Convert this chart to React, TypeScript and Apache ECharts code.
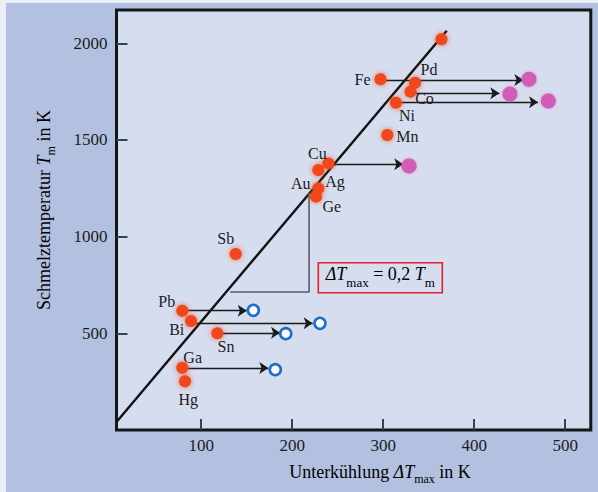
import React, { useEffect, useRef } from 'react';
import * as echarts from 'echarts';

// Red dots: element, undercooling ΔTmax (K), melting temperature Tm (K)
const elements = ['', 'Fe', 'Pd', 'Co', 'Ni', 'Mn', 'Cu', 'Au', 'Ag', 'Ge', 'Sb', 'Pb', 'Bi', 'Sn', 'Ga', 'Hg'];
const undercooling = [364, 297, 335, 330, 314, 304.5, 239.7, 228.7, 228.7, 226.2, 137.9, 79.2, 88.8, 117.7, 79.2, 82.2];
const meltingT = [2021, 1814, 1796, 1750, 1693, 1526, 1379, 1345, 1250, 1207, 910, 617, 564, 500, 322, 252];

// Arrows (horizontal) towards larger undercooling
const arrowFromX = [297, 331, 314, 239.7, 79.2, 88.8, 117.7, 79.2];
const arrowToX = [454, 427.6, 470.1, 322, 150, 222.5, 186.6, 173.7];
const arrowY = [1810, 1742, 1695, 1374, 617, 552, 503, 321];

// Purple filled targets
const purpleX = [460.2, 439.3, 481.4, 328.4];
const purpleY = [1814, 1738, 1702, 1366];

// Blue open targets
const blueX = [157.3, 230.5, 192.9, 181.4];
const blueY = [619, 552, 498, 312];

// Trend line ΔTmax = 0,2 Tm and slope triangle
const trendX = [7.1, 369.8];
const trendY = [43, 2065];
const triX = [131.8, 218.5, 218.5];
const triY = [714, 714, 1226];

const xTicks = [100, 200, 300, 400, 500];
const yTicks = [500, 1000, 1500, 2000];

// label placement (pixel offsets from dot centre)
const labelOffsets: Record<string, number[]> = {
  Fe: [-18, 0], Pd: [14, -13], Co: [14, 7], Ni: [11, 13], Mn: [20, 1.5],
  Cu: [-11, -10], Au: [-17.6, 13.3], Ag: [16.7, -6.6], Ge: [15.7, 10],
  Sb: [-10, -15.7], Pb: [-15.6, -9.7], Bi: [-14.3, 8.3], Sn: [8.7, 13.4],
  Ga: [10.4, -10.4], Hg: [3.3, 18],
};

export default function App() {
  const ref = useRef<HTMLDivElement>(null);
  useEffect(() => {
    const chart = echarts.init(ref.current!, null, { renderer: 'svg' });
    const serif = "'Liberation Serif', 'DejaVu Serif', serif";
    const ink = '#1c1c1c';
    const plotBg = '#d6ddee';

    const richTitle = (lh: number, fs: number, sfs: number) => ({
      r: { fontFamily: serif, fontSize: fs, color: ink, lineHeight: lh },
      i: { fontFamily: serif, fontSize: fs, color: ink, lineHeight: lh, fontStyle: 'italic' },
      s: { fontFamily: serif, fontSize: sfs, color: ink, verticalAlign: 'bottom' },
    });

    const dotData = elements.map((n, k) => ({
      name: n,
      value: [undercooling[k], meltingT[k]],
      label: { offset: labelOffsets[n] || [0, 0] },
    }));

    const plain = (v: number) => String(v);

    const option: any = {
      animation: false,
      grid: {
        left: 116.5, top: 10, right: 7.2, bottom: 62,
        show: true, backgroundColor: plotBg, borderColor: '#101818', borderWidth: 3,
      },
      xAxis: {
        type: 'value', min: 6.9, max: 528.1,
        axisLine: { show: false },
        splitLine: { show: false },
        axisTick: { show: true, inside: true, length: 11, customValues: xTicks, lineStyle: { color: '#2a4854', width: 2 } },
        axisLabel: { customValues: xTicks, formatter: plain, margin: 7, fontFamily: serif, fontSize: 17, color: ink },
      },
      yAxis: {
        type: 'value', min: 0, max: 2172.4,
        axisLine: { show: false },
        splitLine: { show: false },
        axisTick: { show: true, inside: true, length: 11, customValues: yTicks, lineStyle: { color: '#2a4854', width: 2 } },
        axisLabel: { customValues: yTicks, formatter: plain, margin: 9, fontFamily: serif, fontSize: 17, color: ink },
      },
      graphic: [
        {
          type: 'text', x: 380, y: 472, z: 50,
          style: {
            text: '{r|Unterkühlung }{i|ΔT}{s|max}{r| in K}',
            rich: richTitle(26, 18, 12), align: 'center', verticalAlign: 'middle',
          },
        },
        {
          type: 'text', x: 44, y: 210, rotation: Math.PI / 2, z: 50,
          style: {
            text: '{r|Schmelztemperatur }{i|T}{s|m}{r| in K}',
            rich: richTitle(26, 18, 12), align: 'center', verticalAlign: 'middle',
          },
        },
        {
          type: 'rect', z: 50,
          shape: { x: 318.3, y: 262.7, width: 124, height: 30 },
          style: { fill: plotBg, stroke: '#e0222a', lineWidth: 1.6 },
        },
        {
          type: 'text', x: 380.3, y: 274, z: 51,
          style: {
            text: '{i|ΔT}{s|max}{r| = 0,2 }{i|T}{s|m}',
            rich: richTitle(30, 18, 13), align: 'center', verticalAlign: 'middle',
          },
        },
      ],
      series: [
        {
          type: 'line', data: trendX.map((x, k) => [x, trendY[k]]),
          symbol: 'none', lineStyle: { color: '#111', width: 2.4 }, z: 2,
        },
        {
          type: 'line', data: triX.map((x, k) => [x, triY[k]]),
          symbol: 'none', lineStyle: { color: '#56606a', width: 1.6 }, z: 2,
        },
        {
          type: 'lines', coordinateSystem: 'cartesian2d', z: 3,
          symbol: ['none', 'arrow'], symbolSize: 9,
          lineStyle: { color: '#1a1a1a', width: 1.4, opacity: 1 },
          data: arrowFromX.map((x, k) => ({ coords: [[x, arrowY[k]], [arrowToX[k], arrowY[k]]] })),
        },
        {
          type: 'scatter', z: 4, symbolSize: 12,
          itemStyle: { color: '#f0461e', shadowBlur: 5, shadowColor: 'rgba(240,70,30,0.75)', opacity: 1 },
          label: {
            show: true, position: 'inside', formatter: '{b}',
            fontFamily: serif, fontSize: 16, color: ink,
          },
          data: dotData,
        },
        {
          type: 'scatter', z: 4, symbolSize: 15,
          itemStyle: { color: '#d25db6', shadowBlur: 3, shadowColor: 'rgba(210,93,182,0.6)', opacity: 1 },
          data: purpleX.map((x, k) => [x, purpleY[k]]),
        },
        {
          type: 'scatter', z: 4, symbolSize: 11,
          itemStyle: { color: '#fbfbff', borderColor: '#1f6fc6', borderWidth: 2.6, opacity: 1 },
          data: blueX.map((x, k) => [x, blueY[k]]),
        },
      ],
    };
    chart.setOption(option);
    return () => chart.dispose();
  }, []);
  return (
    <div
      ref={ref}
      style={{
        position: 'fixed', left: 0, top: 0, width: 598, height: 492,
        background: '#b3c1e1', boxShadow: 'inset 6px 3px 0 0 #eceef6',
      }}
    />
  );
}
